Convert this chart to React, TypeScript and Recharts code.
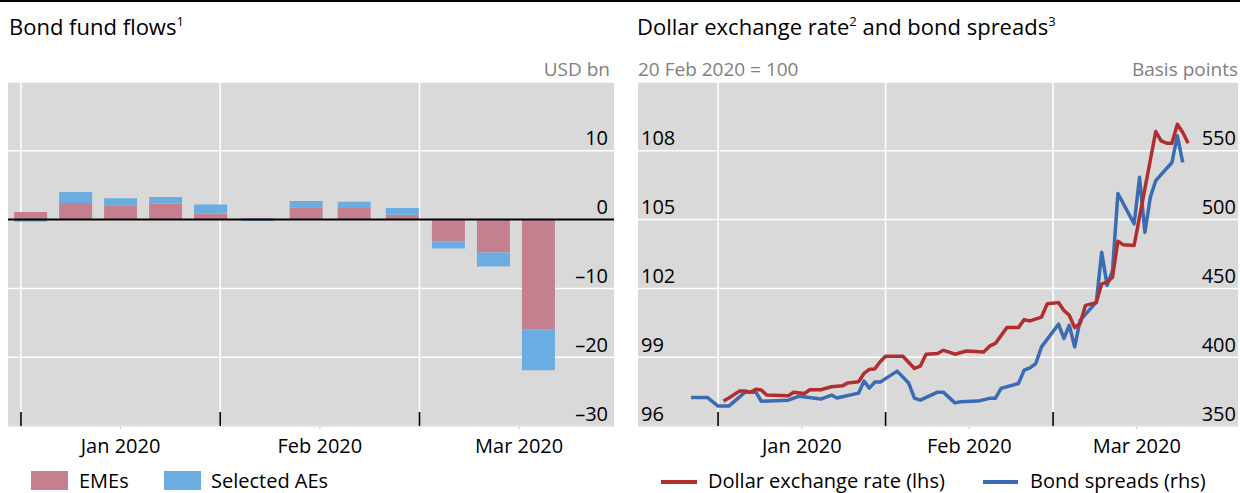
import React from 'react';
import { BarChart, Bar, XAxis, YAxis, CartesianGrid, ReferenceLine, LineChart, Line } from 'recharts';

const FONT = '"Open Sans", "Noto Sans", sans-serif';

// ---------- Left panel: bond fund flows (USD bn), weekly ----------
const flowDates = ['2020-01-02', '2020-01-09', '2020-01-16', '2020-01-23', '2020-01-30', '2020-02-06', '2020-02-13', '2020-02-20', '2020-02-27', '2020-03-05', '2020-03-12', '2020-03-19'];
const emeFlows = [1.1, 2.4, 2.1, 2.3, 0.9, 0.2, 1.8, 1.7, 0.7, -3.2, -4.8, -16.0];
const aeFlows = [-0.3, 1.6, 1.0, 1.0, 1.3, -0.2, 0.9, 0.9, 1.0, -1.0, -2.0, -5.9];
const flowTicks = [-30, -20, -10, 0, 10];
const monthLabels = ['Jan 2020', 'Feb 2020', 'Mar 2020'];
const monthTicks = [0, 0.5, 1, 1.5, 2, 2.5];

// ---------- Right panel ----------
const fxDates = ['2020-01-02', '2020-01-03', '2020-01-05', '2020-01-06', '2020-01-07', '2020-01-08', '2020-01-09', '2020-01-10', '2020-01-14', '2020-01-15', '2020-01-17', '2020-01-18', '2020-01-20', '2020-01-22', '2020-01-24', '2020-01-25', '2020-01-27', '2020-01-28', '2020-01-29', '2020-01-30', '2020-01-31', '2020-02-01', '2020-02-04', '2020-02-06', '2020-02-07', '2020-02-08', '2020-02-10', '2020-02-11', '2020-02-12', '2020-02-13', '2020-02-15', '2020-02-18', '2020-02-19', '2020-02-20', '2020-02-22', '2020-02-24', '2020-02-25', '2020-02-26', '2020-02-28', '2020-02-29', '2020-03-02', '2020-03-03', '2020-03-04', '2020-03-05', '2020-03-06', '2020-03-07', '2020-03-09', '2020-03-10', '2020-03-11', '2020-03-12', '2020-03-13', '2020-03-14', '2020-03-16', '2020-03-20', '2020-03-21', '2020-03-22', '2020-03-23', '2020-03-24', '2020-03-25', '2020-03-26'];
const fxValues = [97.09, 97.22, 97.53, 97.53, 97.47, 97.6, 97.57, 97.35, 97.32, 97.47, 97.42, 97.58, 97.58, 97.71, 97.75, 97.88, 97.93, 98.29, 98.47, 98.49, 98.8, 99.04, 99.04, 98.51, 98.61, 99.13, 99.16, 99.3, 99.22, 99.13, 99.27, 99.23, 99.48, 99.6, 100.29, 100.29, 100.64, 100.58, 100.75, 101.33, 101.38, 101.04, 100.83, 100.29, 100.47, 101.26, 101.38, 102.2, 102.27, 102.49, 104.06, 103.9, 103.87, 108.84, 108.43, 108.33, 108.33, 109.16, 108.8, 108.33];

const spreadDates = ['2019-12-27', '2019-12-30', '2020-01-01', '2020-01-03', '2020-01-06', '2020-01-08', '2020-01-09', '2020-01-14', '2020-01-16', '2020-01-20', '2020-01-22', '2020-01-23', '2020-01-27', '2020-01-28', '2020-01-29', '2020-01-30', '2020-01-31', '2020-02-03', '2020-02-05', '2020-02-06', '2020-02-07', '2020-02-10', '2020-02-11', '2020-02-13', '2020-02-14', '2020-02-17', '2020-02-19', '2020-02-20', '2020-02-21', '2020-02-24', '2020-02-25', '2020-02-26', '2020-02-27', '2020-02-28', '2020-03-02', '2020-03-03', '2020-03-04', '2020-03-05', '2020-03-06', '2020-03-09', '2020-03-10', '2020-03-11', '2020-03-12', '2020-03-13', '2020-03-16', '2020-03-17', '2020-03-18', '2020-03-19', '2020-03-20', '2020-03-23', '2020-03-24', '2020-03-25'];
const spreadValues = [370.8, 370.8, 364.5, 364.5, 374.6, 374.6, 368, 368.8, 371.7, 369.6, 372.5, 370.3, 373.9, 382.6, 377.5, 381.9, 381.9, 389.9, 381.2, 370.3, 368.8, 374.6, 374.6, 366.8, 367.6, 368.1, 370.1, 370.1, 377.3, 380.9, 390.6, 392.2, 395.4, 407.5, 424, 413.6, 423.2, 407.5, 426.8, 440, 476.3, 452.2, 463, 519, 496.9, 530.7, 490.8, 516.2, 528.3, 541.5, 560.9, 541.5];
const fxTicks = [96, 99, 102, 105, 108];
const spreadTicks = [350, 400, 450, 500, 550];

const COL_EME = '#c4808e';
const COL_AE = '#6badE1';
const COL_FX = '#b22d2e';
const COL_SP = '#3a6cb3';
const BG = '#d9d9d9';

// month-index position: Jan 2020 = 0, fraction within month by day
const daysIn = (y: number, m: number) => new Date(y, m, 0).getDate();
function pos(date: string, offset = 0): number {
  const [y, m, d] = date.split('-').map(Number);
  return (y - 2020) * 12 + (m - 1) + (d - 1 + offset) / daysIn(y, m);
}

const flowData = flowDates.map((d, i) => ({ x: pos(d, 0.5), eme: emeFlows[i], ae: aeFlows[i] }));
const fxData = fxDates.map((d, i) => ({ x: pos(d), v: fxValues[i] }));
const spreadData = spreadDates.map((d, i) => ({ x: pos(d), v: spreadValues[i] }));

const fmt = (v: number) => (v < 0 ? '\u2013' + Math.abs(v) : String(v));

// plot bottom in chart coordinates (both charts)
const PLOT_BOTTOM = 426;

const monthTick = (props: any) => {
  const { x, payload } = props;
  const y = PLOT_BOTTOM;
  const v = payload.value as number;
  if (Math.abs(v - Math.round(v)) < 1e-6) {
    return <line x1={x} x2={x} y1={y - 14} y2={y} stroke="#000" strokeWidth={1.6} />;
  }
  return (
    <g>
      <line x1={x} x2={x} y1={y} y2={y + 3} stroke="#c8c8c8" strokeWidth={1} />
      <text x={x} y={y + 27} textAnchor="middle" fontFamily={FONT} fontSize={20} fill="#000">
        {monthLabels[Math.floor(v)]}
      </text>
    </g>
  );
};

const yTick = (xPos: number, anchor: 'start' | 'end') => (props: any) => {
  const { y, payload } = props;
  return (
    <text x={xPos} y={y - 5.5} textAnchor={anchor} fontFamily={FONT} fontSize={20} fill="#000">
      {fmt(payload.value)}
    </text>
  );
};

export default function App() {
  return (
    <div style={{ position: 'absolute', left: 0, top: 0, width: 1240, height: 493, background: '#fff', overflow: 'hidden' }}>
      {/* Left chart */}
      <div style={{ position: 'absolute', left: 0, top: 0 }}>
        <BarChart width={620} height={493} data={flowData} stackOffset="sign" margin={{ top: 82, right: 5, bottom: 37, left: 8 }}>
          <CartesianGrid fill={BG} stroke="#fff" strokeWidth={1.5} verticalValues={[0, 1, 2]} horizontal vertical />
          <XAxis dataKey="x" type="number" domain={[-0.065, 2.976]} allowDataOverflow ticks={monthTicks} interval={0} height={30} tickSize={0} tickMargin={0} tickLine={false} axisLine={{ stroke: '#d0d0d0' }} tick={monthTick} />
          <YAxis type="number" domain={[-30, 20]} ticks={flowTicks} interval={0} orientation="right" width={1} tickLine={false} axisLine={false} tick={yTick(608, 'end')} />
          <Bar dataKey="eme" stackId="s" fill={COL_EME} barSize={33} isAnimationActive={false} />
          <Bar dataKey="ae" stackId="s" fill={COL_AE} barSize={33} isAnimationActive={false} />
          <ReferenceLine y={0} stroke="#000" strokeWidth={2} />
        </BarChart>
      </div>

      {/* Right chart */}
      <div style={{ position: 'absolute', left: 620, top: 0 }}>
        <LineChart width={620} height={493} margin={{ top: 82, right: 1, bottom: 37, left: 17 }}>
          <CartesianGrid fill={BG} stroke="#fff" strokeWidth={1.5} yAxisId="l" verticalValues={[0, 1, 2]} horizontal vertical />
          <XAxis dataKey="x" type="number" domain={[-0.478, 3.104]} allowDataOverflow ticks={monthTicks} interval={0} height={30} tickSize={0} tickMargin={0} tickLine={false} axisLine={{ stroke: '#d0d0d0' }} tick={monthTick} />
          <YAxis yAxisId="l" type="number" domain={[96, 111]} ticks={fxTicks} interval={0} orientation="left" width={1} tickLine={false} axisLine={false} tick={yTick(21, 'start')} />
          <YAxis yAxisId="r" type="number" domain={[350, 600]} ticks={spreadTicks} interval={0} orientation="right" width={1} tickLine={false} axisLine={false} tick={yTick(616, 'end')} />
          <Line yAxisId="r" data={spreadData} dataKey="v" type="linear" stroke={COL_SP} strokeWidth={3.5} dot={false} strokeLinejoin="round" isAnimationActive={false} />
          <Line yAxisId="l" data={fxData} dataKey="v" type="linear" stroke={COL_FX} strokeWidth={3.5} dot={false} strokeLinejoin="round" isAnimationActive={false} />
        </LineChart>
      </div>

      {/* Titles, units, legends */}
      <svg width={1240} height={493} style={{ position: 'absolute', left: 0, top: 0, pointerEvents: 'none' }} fontFamily={FONT}>
        <line x1={0} x2={1240} y1={1} y2={1} stroke="#000" strokeWidth={2} />
        <text x={9} y={35} fontSize={22} fill="#000">
          Bond fund flows<tspan fontSize={13} dy={-9}>1</tspan>
        </text>
        <text x={637} y={35} fontSize={22} fill="#000">
          Dollar exchange rate<tspan fontSize={13} dy={-9}>2</tspan>
          <tspan dy={9}> and bond spreads</tspan>
          <tspan fontSize={13} dy={-9}>3</tspan>
        </text>
        <text x={610} y={76} fontSize={19} fill="#808080" textAnchor="end">USD bn</text>
        <text x={638} y={76} fontSize={19} fill="#808080">20 Feb 2020 = 100</text>
        <text x={1238} y={76} fontSize={19} fill="#808080" textAnchor="end">Basis points</text>

        <rect x={31} y={471} width={37} height={19} fill={COL_EME} />
        <text x={79} y={488} fontSize={20} fill="#000">EMEs</text>
        <rect x={164} y={471} width={37} height={19} fill={COL_AE} />
        <text x={211} y={488} fontSize={20} fill="#000">Selected AEs</text>

        <line x1={661} x2={697} y1={482} y2={482} stroke={COL_FX} strokeWidth={4} />
        <text x={708} y={488} fontSize={20} fill="#000">Dollar exchange rate (lhs)</text>
        <line x1={983} x2={1018} y1={482} y2={482} stroke={COL_SP} strokeWidth={4} />
        <text x={1030} y={488} fontSize={20} fill="#000">Bond spreads (rhs)</text>
      </svg>
    </div>
  );
}
